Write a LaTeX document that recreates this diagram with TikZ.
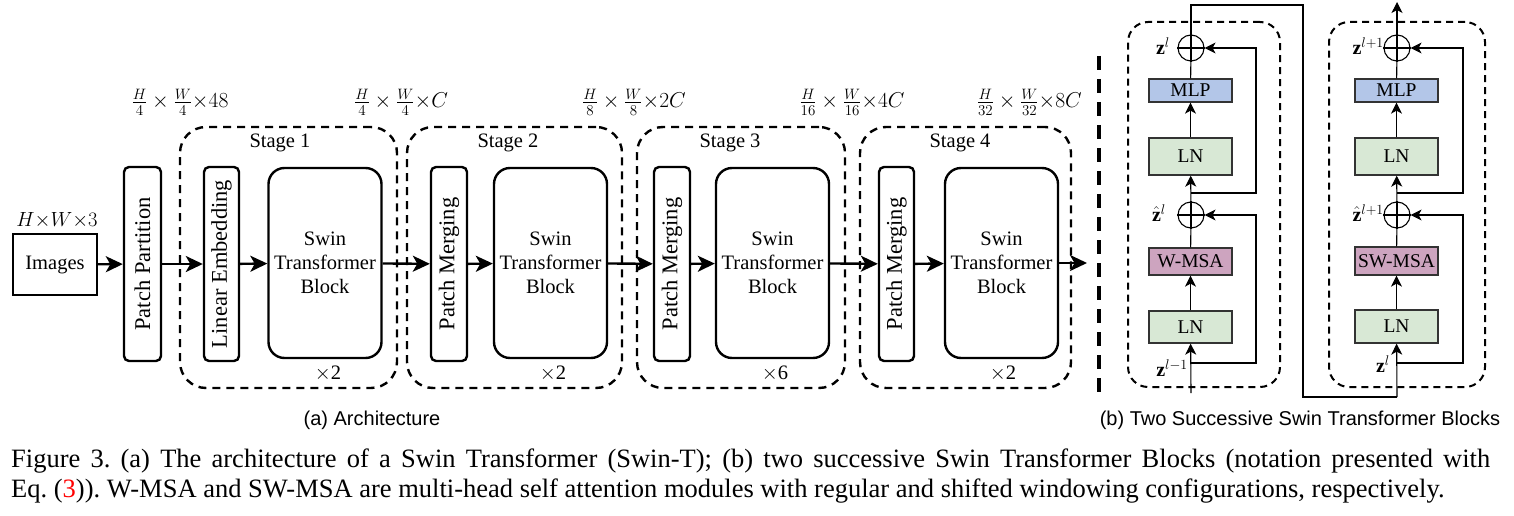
\RequirePackage{fix-cm}
\documentclass[tikz,border=0pt]{standalone}
\usepackage{fontspec}
\setmainfont{Liberation Serif}
\newfontfamily\capsans{Liberation Sans}
\usetikzlibrary{arrows.meta}
\definecolor{mlpblue}{HTML}{B3C6E8}
\definecolor{lngreen}{HTML}{D8E8D5}
\definecolor{msapink}{HTML}{CDA4BF}
\definecolor{edgegray}{HTML}{333333}
\frenchspacing
\begin{document}
\begin{tikzpicture}[x=1pt,y=-1pt,
  font=\fontsize{20.5}{24}\selectfont,
  box/.style={draw, line width=2.4pt, rounded corners=5pt, inner sep=0pt, rotate=90,
    minimum width=194pt, font=\fontsize{22.5}{26}\selectfont},
  imgbox/.style={draw, line width=2.4pt, inner sep=0pt, minimum width=84pt, minimum height=61pt},
  swin/.style={draw, line width=2.4pt, rounded corners=16pt, inner sep=0pt, align=center,
    minimum width=113pt, minimum height=190pt},
  stagebox/.style={draw, line width=2.4pt, dash pattern=on 8pt off 6pt, rounded corners=26pt,
    minimum height=261pt, inner sep=0pt},
  arr/.style={line width=2.4pt, -{Stealth[length=17pt,width=16pt,inset=4.5pt]}},
  dimlab/.style={anchor=base, inner sep=0pt, font=\fontsize{21.5}{24}\selectfont},
  sbox/.style={draw=edgegray, line width=1.3pt, inner sep=0pt, minimum width=83pt,
    font=\fontsize{19.5}{22}\selectfont},
  plus/.style={draw=black, circle, line width=1.1pt, minimum size=26pt, inner sep=0pt},
  thinl/.style={line width=1.1pt, draw=black},
  sarr/.style={thinl, -{Stealth[length=11pt,width=11pt,inset=3pt]}},
  blockbox/.style={draw, line width=2pt, dash pattern=on 7pt off 5pt, rounded corners=20pt,
    inner sep=0pt},
  zlab/.style={inner sep=0pt, font=\fontsize{20}{22}\selectfont},
  subcap/.style={font=\capsans\fontsize{20}{22}\selectfont}
]
\useasboundingbox (0,0) rectangle (1514,516);
\fill[white] (0,0) rectangle (1514,516);

% ---------- (a) Architecture ----------
\node[imgbox] (img) at (55,264.5) {Images};
\node[anchor=base, inner sep=0pt] (imglab) at (57,226) {$H{\times}W{\times}3$};

\node[box, minimum height=37pt] (pp) at (142.5,264) {Patch Partition};

\node[stagebox, minimum width=217pt] (s1) at (288.5,257.5) {};
\node[stagebox, minimum width=215pt] (s2) at (514.5,257.5) {};
\node[stagebox, minimum width=208pt] (s3) at (741,257.5) {};
\node[stagebox, minimum width=211pt] (s4) at (965.5,257.5) {};

\node (st1) at (280,143) {Stage 1};
\node (st2) at (508,143) {Stage 2};
\node (st3) at (730,143) {Stage 3};
\node (st4) at (960,143) {Stage 4};

\node[box, minimum height=35pt] (le) at (221.5,264) {Linear Embedding};
\node[box, minimum height=36pt] (pm2) at (449,264) {Patch Merging};
\node[box, minimum height=36pt] (pm3) at (672,264) {Patch Merging};
\node[box, minimum height=35pt] (pm4) at (896.5,264) {Patch Merging};

\node[swin] (sw1) at (325,263) {Swin\\Transformer\\Block};
\node[swin] (sw2) at (550.5,263) {Swin\\Transformer\\Block};
\node[swin] (sw3) at (772.5,263) {Swin\\Transformer\\Block};
\node[swin] (sw4) at (1001.5,263) {Swin\\Transformer\\Block};

\node (r1) at (328,374) {$\times$2};
\node (r2) at (553,374) {$\times$2};
\node (r3) at (775,374) {$\times$6};
\node (r4) at (1003,374) {$\times$2};

\node[dimlab] (d0) at (180,108) {$\frac{H}{4}\times\frac{W}{4}{\times}48$};
\node[dimlab] (d1) at (401,108) {$\frac{H}{4}\times\frac{W}{4}{\times}C$};
\node[dimlab] (d2) at (634,108) {$\frac{H}{8}\times\frac{W}{8}{\times}2C$};
\node[dimlab] (d3) at (852,108) {$\frac{H}{16}\times\frac{W}{16}{\times}4C$};
\node[dimlab, anchor=base east] (d4) at (1082,108) {$\frac{H}{32}\times\frac{W}{32}{\times}8C$};

\coordinate (out) at (1087,263);
\draw[arr] (img) -- (pp);
\draw[arr] (pp) -- (le);
\draw[arr] (le) -- (sw1);
\draw[arr] (sw1) -- (pm2);
\draw[arr] (pm2) -- (sw2);
\draw[arr] (sw2) -- (pm3);
\draw[arr] (pm3) -- (sw3);
\draw[arr] (sw3) -- (pm4);
\draw[arr] (pm4) -- (sw4);
\draw[arr] (sw4.east |- out) -- (out);

% separator
\coordinate (sepT) at (1099,56);
\coordinate (sepB) at (1099,393);
\draw[line width=4pt, dash pattern=on 14pt off 9pt] (sepT) -- (sepB);

% ---------- (b) Two successive blocks ----------
\node[blockbox, minimum width=152pt, minimum height=365pt] (bb1) at (1204,204.5) {};
\node[blockbox, minimum width=156pt, minimum height=365pt] (bb2) at (1407,204.5) {};

% block 1
\node[sbox, fill=mlpblue, minimum height=23pt] (m1) at (1190.5,90.5) {MLP};
\node[sbox, fill=lngreen, minimum height=37pt] (lnb1) at (1190.5,156.5) {LN};
\node[sbox, fill=msapink, minimum height=27pt] (w1) at (1190.5,261.5) {W-MSA};
\node[sbox, fill=lngreen, minimum height=32pt] (lna1) at (1190.5,327) {LN};
\node[plus] (pt1) at (1191,48) {};
\node[plus] (pb1) at (1191,215) {};
\draw[thinl] (pt1.north) -- (pt1.south) (pt1.west) -- (pt1.east);
\draw[thinl] (pb1.north) -- (pb1.south) (pb1.west) -- (pb1.east);
\coordinate (in1) at (1191,393);
\coordinate (br1) at (1191,363);
\coordinate (k1) at (1256,363);
\coordinate (br2) at (1191,193);
\coordinate (k2) at (1256,193);
\draw[sarr] (in1) -- (lna1);
\draw[sarr] (br1) -- (k1) |- (pb1.east);
\draw[sarr] (lna1) -- (w1);
\draw[thinl] (w1) -- (pb1);
\draw[sarr] (pb1) -- (lnb1);
\draw[sarr] (br2) -- (k2) |- (pt1.east);
\draw[sarr] (lnb1) -- (m1);
\draw[thinl] (m1) -- (pt1);

\node[zlab, anchor=east] (zl1) at (1170,46) {$\mathbf{z}^{l}$};
\node[zlab, anchor=east] (zh1) at (1166,213) {$\hat{\mathbf{z}}^{l}$};
\node[zlab, anchor=east] (zm1) at (1188,368) {$\mathbf{z}^{l-1}$};

% connection
\coordinate (ta) at (1191,5);
\coordinate (tr) at (1303,5);
\coordinate (brr) at (1303,397);
\coordinate (bb) at (1397,397);

% block 2
\node[sbox, fill=mlpblue, minimum height=23pt] (m2) at (1396.5,90.5) {MLP};
\node[sbox, fill=lngreen, minimum height=37pt] (lnb2) at (1396.5,156.5) {LN};
\node[sbox, fill=msapink, minimum height=28pt] (w2) at (1396.5,261) {SW-MSA};
\node[sbox, fill=lngreen, minimum height=33pt] (lna2) at (1396.5,326.5) {LN};
\node[plus] (pt2) at (1397,48) {};
\node[plus] (pb2) at (1397,215) {};
\draw[thinl] (pt2.north) -- (pt2.south) (pt2.west) -- (pt2.east);
\draw[thinl] (pb2.north) -- (pb2.south) (pb2.west) -- (pb2.east);
\coordinate (br3) at (1397,363);
\coordinate (k3) at (1463,363);
\coordinate (br4) at (1397,193);
\coordinate (k4) at (1463,193);
\coordinate (top2) at (1397,2);
\draw[thinl] (pt1) -- (ta) -- (tr) -- (brr) -- (bb);
\draw[sarr] (bb) -- (lna2);
\draw[sarr] (br3) -- (k3) |- (pb2.east);
\draw[sarr] (lna2) -- (w2);
\draw[thinl] (w2) -- (pb2);
\draw[sarr] (pb2) -- (lnb2);
\draw[sarr] (br4) -- (k4) |- (pt2.east);
\draw[sarr] (lnb2) -- (m2);
\draw[thinl] (m2) -- (pt2);
\draw[sarr] (pt2) -- (top2);

\node[zlab, anchor=east] (zl2) at (1384,46) {$\mathbf{z}^{l+1}$};
\node[zlab, anchor=east] (zh2) at (1384,213) {$\hat{\mathbf{z}}^{l+1}$};
\node[zlab, anchor=east] (zm2) at (1390,364) {$\mathbf{z}^{l}$};

% sub-captions
\node[subcap] (capa) at (372,420) {(a) Architecture};
\node[subcap] (capb) at (1300,420) {(b) Two Successive Swin Transformer Blocks};

% caption
\node[anchor=base west, inner sep=0pt, font=\fontsize{26.5}{30}\selectfont] (cap1) at (11,467)
  {\makebox[1479pt][s]{Figure 3. (a) The architecture of a Swin Transformer (Swin-T); (b) two successive Swin Transformer Blocks (notation presented with}};
\node[anchor=base west, inner sep=0pt, font=\fontsize{26.5}{30}\selectfont] (cap2) at (11,497)
  {Eq. (\textcolor{red}{3})). W-MSA and SW-MSA are multi-head self attention modules with regular and shifted windowing configurations, respectively.};
\end{tikzpicture}
\end{document}
